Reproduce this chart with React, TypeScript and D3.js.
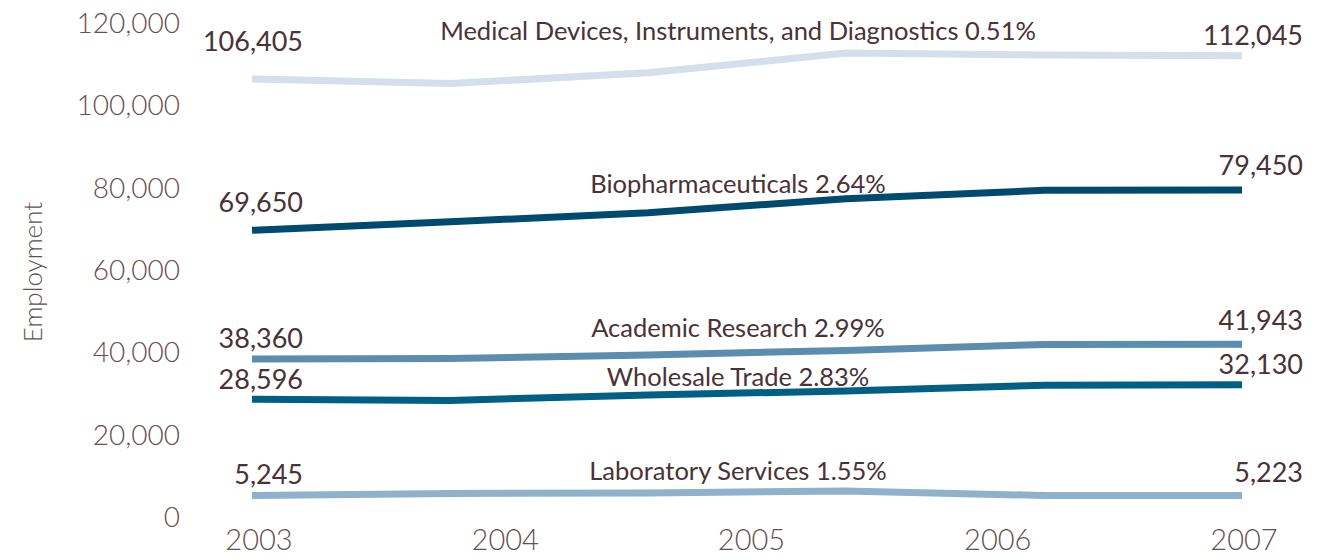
import * as d3 from "d3";
import React from "react";

// employment by year (6 sampled points per series, first = 2003, last = 2007)
const years = ["2003", "2004", "2005", "2006", "2007"];
const yTicks = [0, 20000, 40000, 60000, 80000, 100000, 120000];

const seriesNames = [
  "Medical Devices, Instruments, and Diagnostics 0.51%",
  "Biopharmaceuticals 2.64%",
  "Academic Research 2.99%",
  "Wholesale Trade 2.83%",
  "Laboratory Services 1.55%",
];
const medical = [106405, 105300, 107900, 112700, 112250, 112045];
const biopharma = [69650, 71700, 73900, 77300, 79350, 79450];
const academic = [38360, 38480, 39370, 40460, 41900, 41943];
const wholesale = [28596, 28300, 29650, 30620, 32000, 32130];
const labServices = [5245, 5710, 5830, 6320, 5230, 5223];

const allSeries = [medical, biopharma, academic, wholesale, labServices];
const colors = ["#d3dfea", "#004a70", "#5b8db0", "#005f85", "#8fb1cb"];
// label offsets (px above the line)
const startDy = [-28, -18, -11, -10, -11];
const endDy = [-11, -15, -14, -11, -13];
const nameBaseline = [40, 193, 337, 386, 480];

const App = () => {
  const width = 1324, height = 560;
  const textColor = "#4a3236";
  const tickColor = "#665050";
  const font = "Lato, 'Open Sans', sans-serif";

  const y = d3.scaleLinear().domain([0, 120000]).range([517, 23]);
  const x = d3.scalePoint<number>().domain(d3.range(6)).range([252, 1242]);
  const xYear = d3.scalePoint<string>().domain(years).range([259, 1244]);
  const line = d3.line<number>()
    .x((_, i) => x(i) as number)
    .y((d) => y(d));
  const fmt = d3.format(",");

  return (
    <svg width={width} height={height} style={{ display: "block", position: "absolute", left: 0, top: 0 }}>
      <rect width={width} height={height} fill="white" />
      <text transform={`translate(42,272) rotate(-90)`} textAnchor="middle" fontFamily={font}
        fontWeight={300} fontSize={26} fill={tickColor}>Employment</text>
      {yTicks.map((t) => (
        <text key={t} x={180} y={y(t)} dy="0.36em" textAnchor="end" fontFamily={font}
          fontWeight={300} fontSize={28} fill={tickColor}>{fmt(t)}</text>
      ))}
      {years.map((yr) => (
        <text key={yr} x={xYear(yr)} y={550} textAnchor="middle" fontFamily={font}
          fontWeight={300} fontSize={29} fill={tickColor}>{yr}</text>
      ))}
      {allSeries.map((s, i) => (
        <g key={i}>
          <path d={line(s) || ""} fill="none" stroke={colors[i]} strokeWidth={7} />
          <text x={303} y={y(s[0]) + startDy[i]} textAnchor="end" fontFamily={font}
            fontSize={27} fill={textColor}>{fmt(s[0])}</text>
          <text x={1303} y={y(s[s.length - 1]) + endDy[i]} textAnchor="end" fontFamily={font}
            fontSize={27} fill={textColor}>{fmt(s[s.length - 1])}</text>
          <text x={738} y={nameBaseline[i]} textAnchor="middle" fontFamily={font}
            fontSize={25.5} fill={textColor}>{seriesNames[i]}</text>
        </g>
      ))}
    </svg>
  );
};

export default App;
